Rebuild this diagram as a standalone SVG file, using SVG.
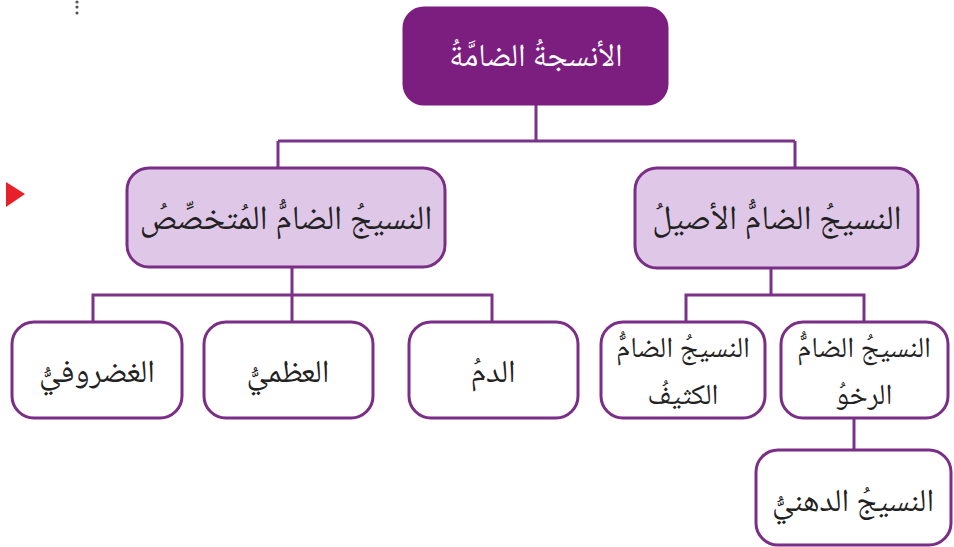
<svg xmlns="http://www.w3.org/2000/svg" width="954" height="547" viewBox="0 0 954 547">
<style>
.bg{fill:#ffffff}
.top{fill:#7B1E80;stroke:#7B1E80;stroke-width:3}
.mid{fill:#DFC7E7;stroke:#7A2E86;stroke-width:3}
.leaf{fill:#ffffff;stroke:#7A2E86;stroke-width:3}
.conn{fill:none;stroke:#7A3389;stroke-width:3}
text{font-family:"Noto Naskh Arabic","Noto Sans Arabic","DejaVu Sans",sans-serif;text-anchor:middle;direction:rtl;fill:#222222}
.tw{fill:#ffffff;font-size:32px}
.tm{font-size:34px}
.tl{font-size:32px}
.t2{font-size:29px}
</style>
<rect class="bg" x="0" y="0" width="954" height="547"/>
<g id="decor">
<circle cx="77" cy="2" r="1.6" fill="#555"/>
<circle cx="77" cy="7" r="1.6" fill="#555"/>
<circle cx="77" cy="13" r="1.6" fill="#555"/>
<polygon points="6,182 25,194 6,207" fill="#E8202A"/>
</g>
<g id="connectors">
<path class="conn" d="M536,105 V141 M278,141 H795 M278,141 V168 M795,141 V168"/>
<path class="conn" d="M292,267 V322 M93,322 V295 H492 V322"/>
<path class="conn" d="M771,268 V295 M686,322 V295 H864 V322"/>
<path class="conn" d="M854,418 V450"/>
</g>
<g id="n_root">
<rect class="top" x="404" y="8" width="263" height="96" rx="20"/>
<text class="tw" x="536" y="66">الأنسجةُ الضامَّةُ</text>
</g>
<g id="n_special">
<rect class="mid" x="127" y="168" width="318" height="99" rx="22"/>
<text class="tm" x="286" y="229">النسيجُ الضامُّ المُتخصِّصُ</text>
</g>
<g id="n_proper">
<rect class="mid" x="635" y="168" width="283" height="100" rx="22"/>
<text class="tm" x="777" y="229">النسيجُ الضامُّ الأصيلُ</text>
</g>
<g id="n_cartilage">
<rect class="leaf" x="12" y="322" width="170" height="96" rx="22"/>
<text class="tl" x="97" y="382">الغضروفيُّ</text>
</g>
<g id="n_bone">
<rect class="leaf" x="204" y="322" width="169" height="96" rx="22"/>
<text class="tl" x="288" y="382">العظميُّ</text>
</g>
<g id="n_blood">
<rect class="leaf" x="409" y="322" width="169" height="96" rx="22"/>
<text class="tl" x="493" y="382">الدمُ</text>
</g>
<g id="n_dense">
<rect class="leaf" x="601" y="322" width="164" height="96" rx="22"/>
<text class="t2" x="683" y="357">النسيجُ الضامُّ</text>
<text class="t2" x="683" y="404">الكثيفُ</text>
</g>
<g id="n_loose">
<rect class="leaf" x="781" y="322" width="167" height="96" rx="22"/>
<text class="t2" x="864" y="357">النسيجُ الضامُّ</text>
<text class="t2" x="864" y="404">الرخوُ</text>
</g>
<g id="n_adipose">
<rect class="leaf" x="756" y="450" width="195" height="95" rx="22"/>
<text class="tl" x="853" y="511">النسيجُ الدهنيُّ</text>
</g>
</svg>
